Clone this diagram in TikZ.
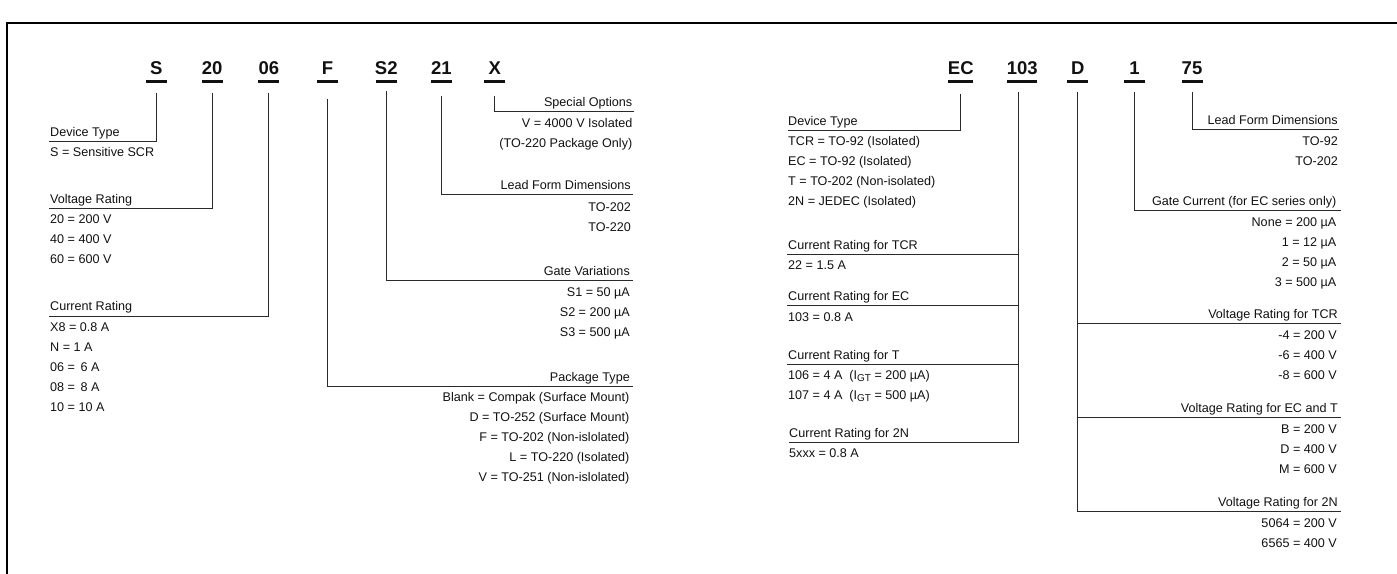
\documentclass[tikz,border=0pt]{standalone}
\usepackage{fontspec}
\setmainfont{Liberation Sans}
\definecolor{ink}{HTML}{111111}
\definecolor{lin}{HTML}{2A2A2A}
\tikzset{
  code/.style={font=\fontsize{18.5}{20}\selectfont\bfseries, anchor=base, inner sep=0pt, text=ink},
  bar/.style={fill=ink, minimum height=3pt, inner sep=0pt, minimum width=21pt},
  ttl/.style={font=\fontsize{12.6}{15}\selectfont, inner sep=0pt, text=ink},
  conn/.style={draw=lin, line width=0.9pt},
  framel/.style={draw=black, line width=2.6pt}
}
\newcommand\vlist[5]{\foreach \t [count=\i from 0] in {#5}{\node[ttl, anchor=#4] (#1-\i) at ({#2},{#3+20*\i}) {\t};}}
\newcommand\igt{I\raisebox{-2.5pt}{\fontsize{10}{10}\selectfont GT}}
\begin{document}
\begin{tikzpicture}[x=1pt,y=-1pt]
\useasboundingbox (0,0) rectangle (1397,573);
% frame
\draw[framel] (7,580) -- (7,23) -- (1400,23);

% ---------- left code S 20 06 F S2 21 X ----------
\foreach \n/\t/\x in {S/S/156.3, 20/20/212.2, 06/06/268.8, F/F/327.5, S2/S2/386.3, 21/21/441.3, X/X/494.7}{
  \node[code] (k\n) at (\x,74) {\t};
  \node[bar] (b\n) at (\x,81) {};
}
% Device type
\coordinate (eS) at (49.3,141.7);
\draw[conn, shorten <=10pt] (bS.south) |- (eS);
\node[ttl, anchor=base west] (tS) at (50,136.5) {Device Type};
\vlist{vS}{50}{156.7}{base west}{S = Sensitive SCR}
% Voltage rating
\coordinate (e20) at (49.3,208.3);
\draw[conn, shorten <=10pt] (b20.south) |- (e20);
\node[ttl, anchor=base west] (t20) at (50,203) {Voltage Rating};
\vlist{v20}{50}{223.3}{base west}{20 = 200 V, 40 = 400 V, 60 = 600 V}
% Current rating
\coordinate (e06) at (49.3,316);
\draw[conn, shorten <=10pt] (b06.south) |- (e06);
\node[ttl, anchor=base west] (t06) at (50,310.7) {Current Rating};
\vlist{v06}{50}{331}{base west}{X8 = 0.8 A, N = 1 A, 06 = \kern2pt 6 A, 08 = \kern2pt 8 A, 10 = 10 A}
% Package type
\coordinate (eF) at (633,386);
\draw[conn, shorten <=16pt] (bF.south) |- (eF);
\node[ttl, anchor=base east] (tF) at (630,381) {Package Type};
\vlist{vF}{629.5}{401.7}{base east}{Blank = Compak (Surface Mount), D = TO-252 (Surface Mount), F = TO-202 (Non-islolated), L = TO-220 (Isolated), V = TO-251 (Non-islolated)}
% Gate variations
\coordinate (eS2) at (633,280);
\draw[conn, shorten <=8pt] (bS2.south) |- (eS2);
\node[ttl, anchor=base east] (tS2) at (630,275) {Gate Variations};
\vlist{vS2}{630}{296}{base east}{S1 = 50 µA, S2 = 200 µA, S3 = 500 µA}
% Lead form
\coordinate (e21) at (633,194.3);
\draw[conn, shorten <=13pt] (b21.south) |- (e21);
\node[ttl, anchor=base east] (t21) at (631,189) {Lead Form Dimensions};
\vlist{v21}{631}{211.5}{base east}{TO-202, TO-220}
% Special options
\coordinate (eX) at (634,111.7);
\draw[conn, shorten <=13pt] (bX.south) |- (eX);
\node[ttl, anchor=base east] (tX) at (632.5,106.5) {Special Options};
\vlist{vX}{632.5}{127.5}{base east}{V = 4000 V Isolated, (TO-220 Package Only)}

% ---------- right code EC 103 D 1 75 ----------
\node[code] (kEC) at (960.8,74) {EC};
\node[bar, minimum width=25pt] (bEC) at (960.8,81) {};
\node[code] (k103) at (1022.3,74) {103};
\node[bar, minimum width=30pt] (b103) at (1022.3,81) {};
\foreach \n/\t/\x in {D/D/1077.8, 1/1/1134.5, 75/75/1192}{
  \node[code] (k\n) at (\x,74) {\t};
  \node[bar] (b\n) at (\x,81) {};
}
% Device type
\coordinate (eEC) at (787.7,130.7);
\draw[conn, shorten <=11pt] (bEC.south) |- (eEC);
\node[ttl, anchor=base west] (tEC) at (788,125.5) {Device Type};
\vlist{vEC}{788}{145.5}{base west}{TCR = TO-92 (Isolated), EC = TO-92 (Isolated), T = TO-202 (Non-isolated), 2N = JEDEC (Isolated)}
% Current ratings
\coordinate (tr103) at ([xshift=-4pt]b103.south);
\coordinate (e103d) at (789.3,442.7);
\coordinate (e103a) at (787.3,254);
\coordinate (e103b) at (787.3,305.7);
\coordinate (e103c) at (787.3,364.3);
\draw[conn, shorten <=9pt] (tr103) |- (e103d);
\draw[conn] (e103a -| tr103) -- (e103a);
\draw[conn] (e103b -| tr103) -- (e103b);
\draw[conn] (e103c -| tr103) -- (e103c);
\node[ttl, anchor=base west] (t103a) at (788,249) {Current Rating for TCR};
\vlist{v103a}{788}{269.3}{base west}{22 = 1.5 A}
\node[ttl, anchor=base west] (t103b) at (788,300.7) {Current Rating for EC};
\vlist{v103b}{788}{321}{base west}{103 = 0.8 A}
\node[ttl, anchor=base west] (t103c) at (788,359.3) {Current Rating for T};
\vlist{v103c}{788}{379.3}{base west}{{106 = 4 A \ (\igt\ = 200 µA)}, {107 = 4 A \ (\igt\ = 500 µA)}}
\node[ttl, anchor=base west] (t103d) at (789,437.7) {Current Rating for 2N};
\vlist{v103d}{789}{457.5}{base west}{5xxx = 0.8 A}
% Voltage ratings
\coordinate (eDa) at (1340.7,323.3);
\coordinate (eDb) at (1340.7,417.7);
\coordinate (eDc) at (1340.7,511.7);
\draw[conn, shorten <=9pt] (bD.south) |- (eDc);
\draw[conn] (eDa -| bD.south) -- (eDa);
\draw[conn] (eDb -| bD.south) -- (eDb);
\node[ttl, anchor=base east] (tDa) at (1338,318) {Voltage Rating for TCR};
\vlist{vDa}{1337}{339}{base east}{-4 = 200 V, -6 = 400 V, -8 = 600 V}
\node[ttl, anchor=base east] (tDb) at (1338,412.5) {Voltage Rating for EC and T};
\vlist{vDb}{1337}{433.5}{base east}{B = 200 V, D = 400 V, M = 600 V}
\node[ttl, anchor=base east] (tDc) at (1338,506.5) {Voltage Rating for 2N};
\vlist{vDc}{1337}{527}{base east}{5064 = 200 V, 6565 = 400 V}
% Gate current
\coordinate (e1) at (1340.7,210.7);
\draw[conn, shorten <=9pt] (b1.south) |- (e1);
\node[ttl, anchor=base east] (t1) at (1336.5,205.5) {Gate Current (for EC series only)};
\vlist{v1}{1336.5}{226.7}{base east}{None = 200 µA, 1 = 12 µA, 2 = 50 µA, 3 = 500 µA}
% Lead form
\coordinate (e75) at (1339,129);
\draw[conn, shorten <=9pt] (b75.south) |- (e75);
\node[ttl, anchor=base east] (t75) at (1338,124.5) {Lead Form Dimensions};
\vlist{v75}{1338}{145}{base east}{TO-92, TO-202}
\end{tikzpicture}
\end{document}
